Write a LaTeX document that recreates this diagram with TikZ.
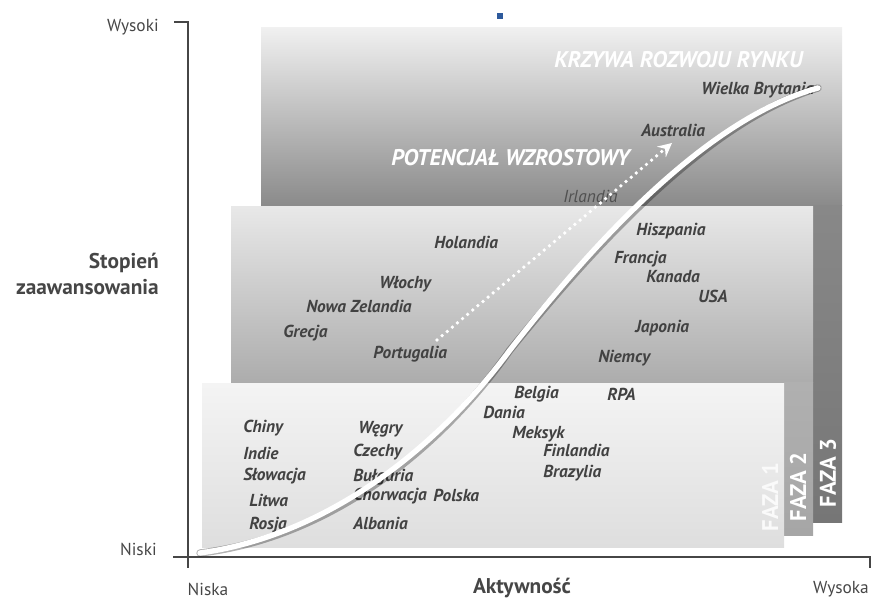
\documentclass[tikz,border=0pt]{standalone}
\usepackage{fontspec}
\setmainfont{PT Sans}
\usepackage{xcolor}
\definecolor{txtgray}{RGB}{66,66,66}
\definecolor{axisgray}{RGB}{70,70,70}
\definecolor{markblue}{RGB}{46,90,156}

\begin{document}
\begin{tikzpicture}[x=0.75pt,y=0.75pt,yscale=-1,xscale=1,
  country/.style={anchor=west,inner sep=0.75pt,text=txtgray,font=\fontsize{13}{15}\selectfont\bfseries\itshape},
  axislabel/.style={inner sep=0.75pt,text=axisgray,font=\fontsize{13}{15}\selectfont},
  bigaxis/.style={inner sep=0.75pt,text=axisgray,font=\fontsize{16}{19}\selectfont\bfseries},
  fazalabel/.style={rotate=90,inner sep=0.75pt,text=white,font=\fontsize{17}{19}\selectfont\bfseries},
  headline/.style={anchor=west,inner sep=0.75pt,text=white,font=\fontsize{17}{19}\selectfont\bfseries\itshape}]
\useasboundingbox (0,0) rectangle (876,599);

%Shape: Rectangle [faza 3]
\fill [top color={rgb,255:red,240;green,240;blue,240}, bottom color={rgb,255:red,138;green,138;blue,138}] (261,28) rectangle (842,206);
\fill [top color={rgb,255:red,136;green,136;blue,136}, bottom color={rgb,255:red,118;green,118;blue,118}] (813,206) rectangle (842,522);
%Shape: Rectangle [faza 2]
\fill [top color={rgb,255:red,232;green,232;blue,232}, bottom color={rgb,255:red,172;green,172;blue,172}] (231,207) rectangle (813,383);
\fill [top color={rgb,255:red,176;green,176;blue,176}, bottom color={rgb,255:red,166;green,166;blue,166}] (784,383) rectangle (813,535);
%Shape: Rectangle [faza 1]
\fill [top color={rgb,255:red,244;green,244;blue,244}, bottom color={rgb,255:red,222;green,222;blue,222}] (202,384) rectangle (784,547);

%Small mark
\fill [markblue] (497,13) rectangle (503,19);

%Axes
\coordinate (yTop) at (174,22);
\coordinate (yCorner) at (188,22);
\coordinate (origin) at (188,557);
\coordinate (yFoot) at (188,568);
\coordinate (xLeft) at (173,557);
\coordinate (xRight) at (870,557);
\coordinate (xTick) at (870,568);
\draw [axisgray, line width=1.1pt] (yTop) -- (yCorner) -- (yFoot);
\draw [axisgray, line width=1.1pt] (xLeft) -- (xRight) -- (xTick);

% Text Node
\node [axislabel, anchor=east] (wysoki) at (160,27) {Wysoki};
\node [bigaxis, anchor=east, align=right] (stopien) at (160,274) {Stopień\\zaawansowania};
\node [axislabel, anchor=east] (niski) at (158,549) {Niski};
\node [axislabel] (niska) at (208,589) {Niska};
\node [bigaxis] (aktywnosc) at (522,588) {Aktywność};
\node [axislabel] (wysoka) at (841,589) {Wysoka};

% Text Node
\node [country] (wielka) at (700,90) {Wielka Brytania};
\node [country] (australia) at (640,130) {Australia};
\node [country, font=\fontsize{13}{15}\selectfont\itshape, text={rgb,255:red,80;green,80;blue,80}] (irlandia) at (562,196) {Irlandia};
\node [country] (hiszpania) at (635,231) {Hiszpania};
\node [country] (holandia) at (433,242) {Holandia};
\node [country] (francja) at (613,259) {Francja};
\node [country] (kanada) at (645,277) {Kanada};
\node [country] (wlochy) at (378,284) {Włochy};
\node [country] (usa) at (697,296) {USA};
\node [country] (nowazel) at (305,306) {Nowa Zelandia};
\node [country] (grecja) at (282,333) {Grecja};
\node [country] (japonia) at (634,328) {Japonia};
\node [country] (portugalia) at (372,354) {Portugalia};
\node [country] (niemcy) at (597,358) {Niemcy};
\node [country] (belgia) at (513,394) {Belgia};
\node [country] (rpa) at (606,394) {RPA};
\node [country] (dania) at (482,412) {Dania};
\node [country] (meksyk) at (511,434) {Meksyk};
\node [country] (finlandia) at (542,450) {Finlandia};
\node [country] (brazylia) at (542,473) {Brazylia};
\node [country] (polska) at (432,495) {Polska};
\node [country] (chiny) at (242,428) {Chiny};
\node [country] (indie) at (242,453) {Indie};
\node [country] (slowacja) at (242,476) {Słowacja};
\node [country] (litwa) at (248,500) {Litwa};
\node [country] (rosja) at (248,525) {Rosja};
\node [country] (wegry) at (357,429) {Węgry};
\node [country] (czechy) at (352,452) {Czechy};
\node [country] (bulgaria) at (352,477) {Bułgaria};
\node [country] (chorwacja) at (352,496) {Chorwacja};
\node [country] (albania) at (352,523) {Albania};

%Curve [market development]
\coordinate (crvS) at (200,553);
\coordinate (crvM) at (510,350);
\coordinate (crvE) at (818,88);
\draw [black, opacity=0.3, line width=5.5pt, line cap=round, shift={(1.5,2.5)}] (crvS) .. controls (330,535) and (440,445) .. (crvM) .. controls (580,260) and (700,120) .. (crvE);
\draw [white, line width=4pt, line cap=round] (crvS) .. controls (330,535) and (440,445) .. (crvM) .. controls (580,260) and (700,120) .. (crvE);

%Dotted arrow [growth potential]
\coordinate (potS) at (437,340);
\coordinate (potE) at (672,143);
\draw [white, line width=2.8pt, line cap=round, dash pattern=on 0pt off 5pt] (potS) -- (potE);
\fill [white, shift={(potE)}, rotate=140] (14,-7) -- (0,0) -- (14,7) -- (9,0) -- cycle;

% Text Node
\node [headline] (krzywa) at (553,60) {KRZYWA ROZWOJU RYNKU};
\node [headline] (potencjal) at (390,158) {POTENCJAŁ WZROSTOWY};

% Text Node
\node [fazalabel, text={rgb,255:red,250;green,250;blue,250}] (faza1) at (770,497) {FAZA 1};
\node [fazalabel] (faza2) at (798,487) {FAZA 2};
\node [fazalabel] (faza3) at (828,473) {FAZA 3};

\end{tikzpicture}
\end{document}
